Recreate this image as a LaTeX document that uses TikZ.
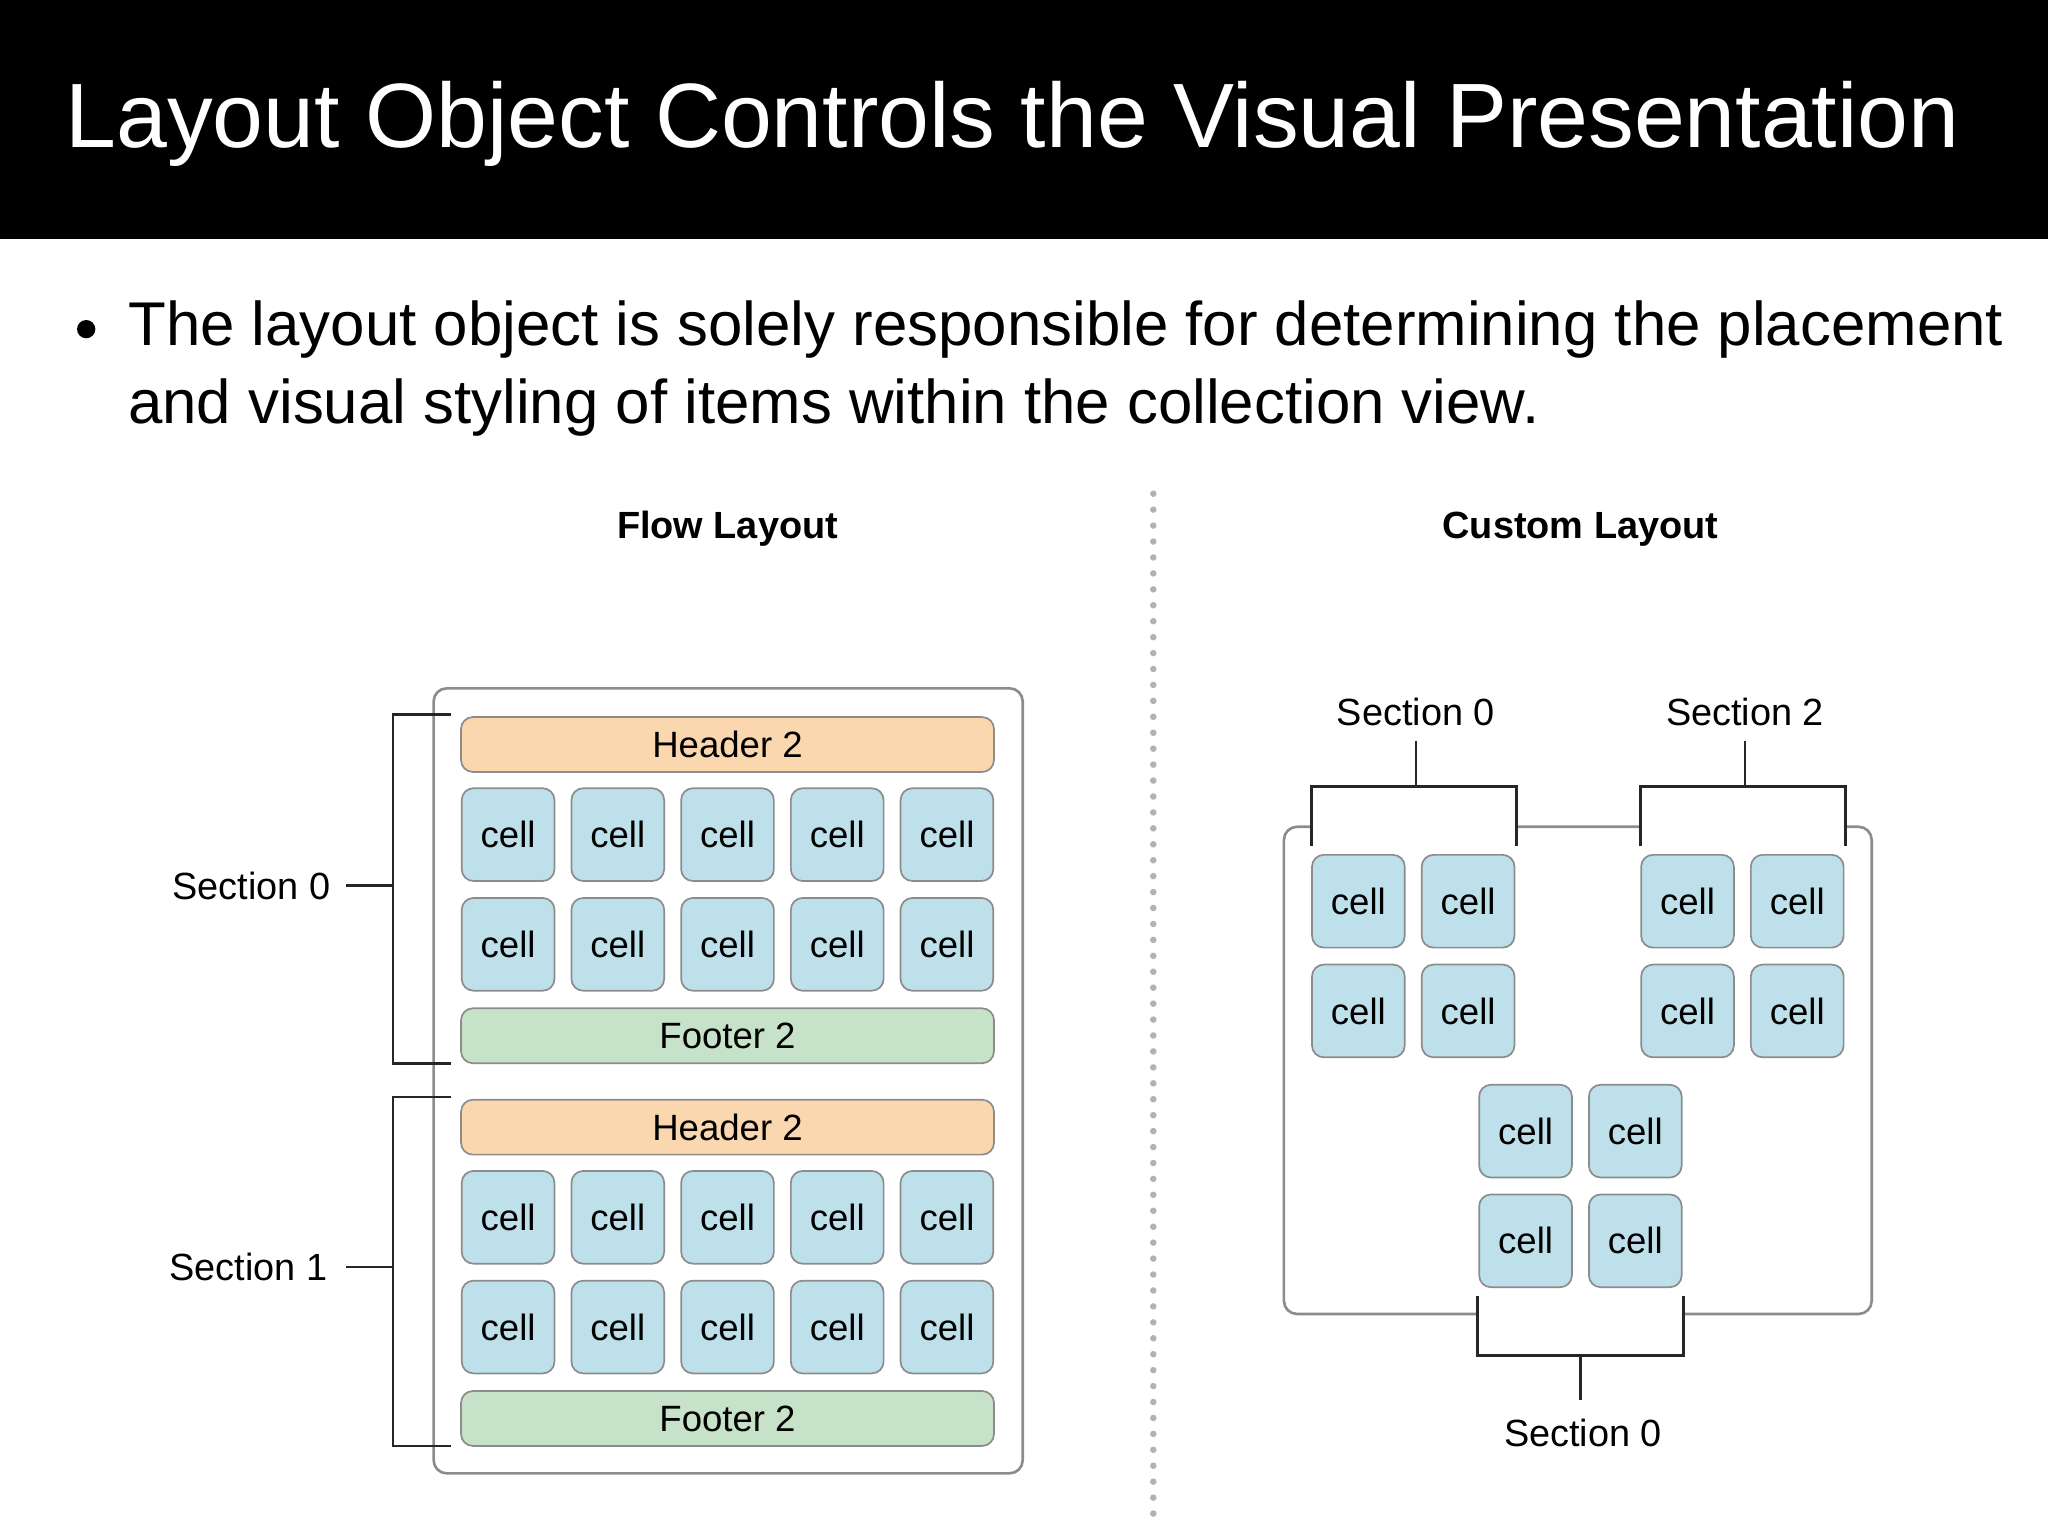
\documentclass[tikz,border=0pt]{standalone}
\usepackage{fontspec}
\setmainfont{Liberation Sans}
\begin{document}
\begin{tikzpicture}[x=1pt,y=-1pt,
  cell/.style={draw=black!45,line width=1.3pt,fill={rgb,255:red,190;green,224;blue,234},rounded corners=9pt,minimum width=71pt,minimum height=71pt,inner sep=0pt,font=\fontsize{28}{28}\selectfont},
  hdr/.style={draw=black!45,line width=1.3pt,fill={rgb,255:red,250;green,215;blue,175},rounded corners=9pt,minimum width=408pt,minimum height=42pt,inner sep=0pt,font=\fontsize{28}{28}\selectfont},
  ftr/.style={hdr,fill={rgb,255:red,198;green,226;blue,200}},
  lbl/.style={font=\fontsize{29}{29}\selectfont,inner sep=0pt},
  ttl/.style={font=\bfseries\fontsize{29}{29}\selectfont,inner sep=0pt},
  br/.style={line width=2pt,black!85},
  box/.style={draw=black!45,line width=2pt,rounded corners=10pt}]
\useasboundingbox (0,0) rectangle (1568,1176);
\fill[white] (0,0) rectangle (1568,1176);
\fill[black] (0,0) rectangle (1568,183);
\node[anchor=west,white,inner sep=0pt,font=\fontsize{70}{70}\selectfont] (title) at (50,95) {Layout Object Controls the Visual Presentation};
\fill (66,252) circle (7);
\node[anchor=west,inner sep=0pt,font=\fontsize{47.3}{47.3}\selectfont] (b1) at (98,252) {The layout object is solely responsible for determining the placement};
\node[anchor=west,inner sep=0pt,font=\fontsize{47.3}{47.3}\selectfont] (b2) at (98,312) {and visual styling of items within the collection view.};
\draw[black!30,line width=5pt,dash pattern=on 0pt off 12.2pt,line cap=round] (883,378) -- (883,1170);
\node[ttl] (fl) at (557,405) {Flow Layout};
\node[ttl] (cl) at (1210,405) {Custom Layout};
% flow
\draw[box] (332,527) rectangle (783,1128);
\foreach \s/\yh/\ya/\yb/\yf in {0/570/639/723/793, 1/863/932/1016/1086}{
  \node[hdr] (h\s) at (557,\yh) {Header 2};
  \node[ftr] (f\s) at (557,\yf) {Footer 2};
  \foreach \i/\x in {1/389,2/473,3/557,4/641,5/725}{
    \node[cell] (a\s\i) at (\x,\ya) {cell};
    \node[cell] (b\s\i) at (\x,\yb) {cell};
  }
}
\draw[br] (345,547) -- (301,547) -- (301,814) -- (345,814);
\draw[br] (345,840) -- (301,840) -- (301,1107) -- (345,1107);
\node[lbl,anchor=east] (s0) at (253,678) {Section 0};
\node[lbl,anchor=east] (s1) at (251,970) {Section 1};
\draw[br] (s0.east)++(12,0) -- (301,678);
\draw[br] (s1.east)++(14,0) -- (301,970);
% custom
\draw[box] (983,633) rectangle (1433,1006);
\foreach \n/\x/\y in {c1/1040/690,c2/1124/690,c3/1040/774,c4/1124/774,c5/1292/690,c6/1376/690,c7/1292/774,c8/1376/774,c9/1168/866,c10/1252/866,c11/1168/950,c12/1252/950}
  \node[cell] (\n) at (\x,\y) {cell};
\fill[white] (1005,625) rectangle (1160,640);
\fill[white] (1257,625) rectangle (1412,640);
\fill[white] (1132,1000) rectangle (1288,1012);
\draw[br] (1004,648) -- (1004,602) -- (1161,602) -- (1161,648);
\draw[br] (1256,648) -- (1256,602) -- (1413,602) -- (1413,648);
\draw[br] (1131,992) -- (1131,1038) -- (1289,1038) -- (1289,992);
\node[lbl] (t0) at (1084,545) {Section 0};
\node[lbl] (t2) at (1336,545) {Section 2};
\node[lbl] (t3) at (1212,1097) {Section 0};
\draw[br] (1084,567) -- (1084,602);
\draw[br] (1336,567) -- (1336,602);
\draw[br] (1210,1038) -- (1210,1072);
\end{tikzpicture}
\end{document}
